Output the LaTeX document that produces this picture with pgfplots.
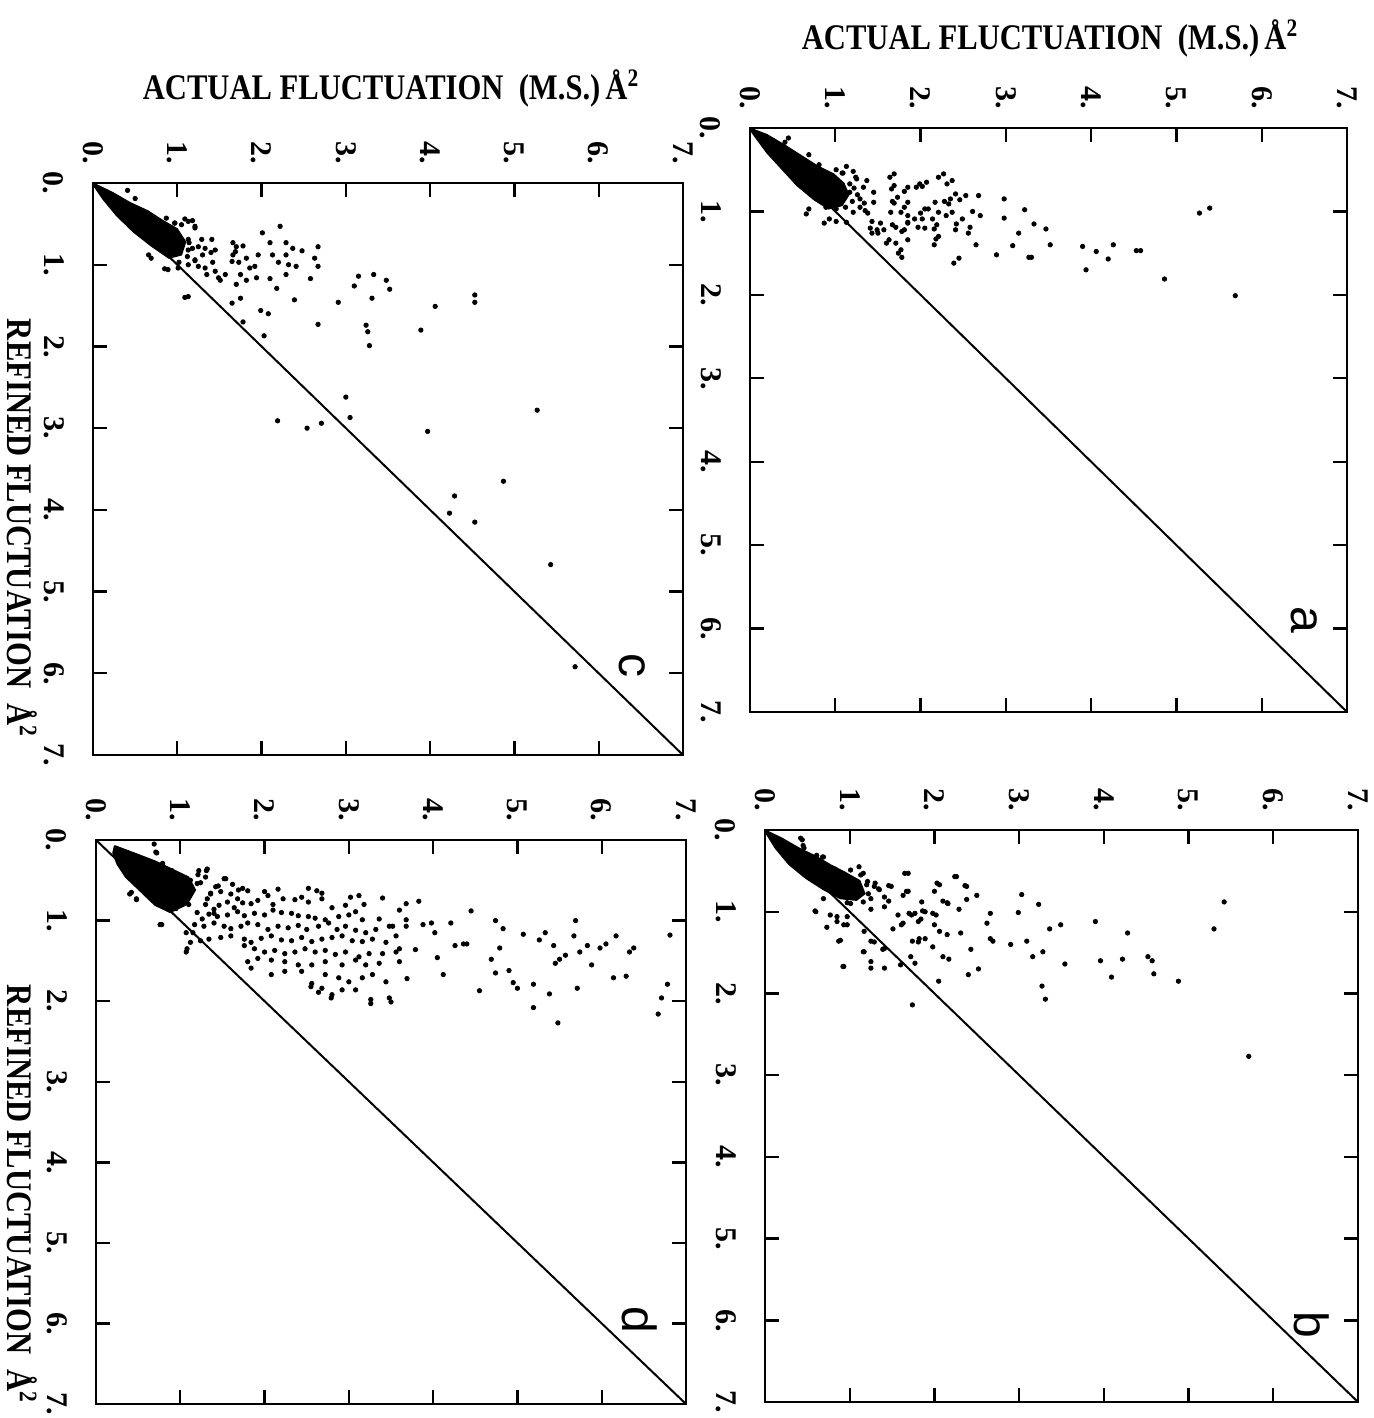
\documentclass[border=0pt]{standalone}
\usepackage{fontspec}
\setmainfont{Liberation Serif}
\setsansfont{Liberation Sans}
\usepackage{graphicx}
\usepackage{pgfplots}
\pgfplotsset{compat=1.18}

\pgfplotsset{panel/.style={
  scale only axis, xmin=0, xmax=7, ymin=0, ymax=7, y dir=reverse,
  xtick={0,...,7}, ytick={0,...,7},
  xticklabels={0.,1.,2.,3.,4.,5.,6.,7.},
  yticklabels={0.,1.,2.,3.,4.,5.,6.,7.},
  xticklabel pos=right, yticklabel pos=left,
  xtick pos=both, ytick pos=both,
  tick align=inside, major tick length=7pt,
  axis line style={line width=1.4pt},
  every tick/.style={line width=1.2pt, black},
  xticklabel style={rotate=-90, anchor=east, font=\fontsize{15}{15}\selectfont\bfseries},
  yticklabel style={rotate=-90, anchor=north, font=\fontsize{15}{15}\selectfont\bfseries},
  xticklabel shift=6pt, yticklabel shift=11pt,
  clip=false,
}}
\pgfplotsset{dots/.style={only marks, mark=*, mark size=1.1pt, black, mark options={draw=black, fill=black}}}
\pgfplotsset{blob/.style={fill=black, draw=black, line width=0.6pt}}
\pgfplotsset{diag/.style={black, line width=1pt}}

\begin{document}
\begin{tikzpicture}
\path[use as bounding box] (0pt,0pt) rectangle (686.5pt,-709pt);

% ---------------- panel a ----------------
\begin{axis}[panel, at={(375pt,-64pt)}, anchor=north west, width=298.5pt, height=292pt]
\addplot[diag] coordinates {(0,0) (7,7)};
\addplot[blob] coordinates {(0.0,0.0) (0.2,0.08) (0.4,0.2) (0.6,0.33) (0.8,0.46) (0.98,0.55) (1.1,0.66) (1.16,0.8) (1.08,0.93) (0.92,0.97) (0.75,0.86) (0.55,0.69) (0.38,0.5) (0.2,0.3) (0.07,0.12) (0.0,0.02) (0.0,0.0)};
\addplot[dots] table {
0.41 0.17
0.96 0.61
1.08 0.54
1.24 0.59
1.64 0.59
1.81 0.76
1.95 0.71
2.02 0.70
2.21 0.59
2.31 0.67
1.66 0.73
1.67 0.88
1.69 0.90
1.81 0.95
1.85 1.05
2.00 1.02
2.09 0.97
2.28 0.88
2.35 0.85
2.46 0.86
2.61 1.00
2.68 0.81
2.70 1.05
2.30 1.05
2.14 1.09
2.02 1.09
1.97 1.19
1.85 1.14
1.78 1.24
1.71 1.19
1.67 1.16
1.53 1.14
1.43 1.12
1.43 1.26
1.50 1.26
1.60 1.38
1.71 1.38
1.74 1.50
1.78 1.55
2.16 1.21
2.18 1.33
2.16 1.40
2.42 1.15
2.58 1.19
2.56 1.26
2.65 1.40
2.89 1.52
2.98 0.85
2.98 1.08
3.15 1.26
3.08 1.41
3.22 0.98
3.33 1.15
3.47 1.21
3.52 1.40
3.27 1.55
3.30 1.55
2.39 1.62
3.90 1.42
3.94 1.70
4.06 1.48
4.20 1.57
4.26 1.40
4.53 1.47
4.58 1.47
4.86 1.81
5.27 1.02
5.39 0.96
5.69 2.01
0.66 1.03
0.87 1.14
1.01 1.12
1.38 1.02
1.29 0.95
1.34 0.90
0.45 0.12
0.69 0.32
0.81 0.44
1.01 0.50
1.13 0.46
1.09 0.54
1.21 0.52
1.25 0.61
1.01 0.65
1.17 0.67
1.37 0.63
1.33 0.71
1.45 0.77
1.17 0.77
1.29 0.85
1.45 0.89
1.35 0.99
1.21 1.01
0.93 1.09
0.69 0.97
0.89 0.95
1.01 0.97
1.13 1.13
1.41 1.20
1.49 1.22
1.57 1.22
1.69 0.55
1.69 0.69
1.85 0.71
1.99 0.67
2.07 0.65
1.73 0.83
1.85 0.89
1.77 1.01
1.65 1.01
1.85 1.13
1.93 1.09
2.05 0.97
2.17 0.89
2.21 1.01
1.85 1.34
1.77 1.46
1.63 1.34
2.05 1.20
2.19 1.16
2.21 1.30
2.27 0.55
2.37 0.63
2.41 0.79
2.53 0.81
2.33 0.91
2.37 1.01
2.49 1.09
2.41 1.22
2.45 1.56
1.81 1.22
1.22 0.72
1.26 0.80
1.20 0.88
1.12 0.95
};
\node[rotate=-90, font=\fontsize{24}{24}\selectfont\sffamily] at (axis cs:6.5,5.9) {a};
\end{axis}

% ---------------- panel b ----------------
\begin{axis}[panel, at={(382.5pt,-415pt)}, anchor=north west, width=296.5pt, height=286pt]
\addplot[diag] coordinates {(0,0) (7,7)};
\addplot[blob] coordinates {(0.0,0.0) (0.2,0.1) (0.4,0.22) (0.6,0.32) (0.78,0.43) (0.95,0.52) (1.12,0.62) (1.18,0.78) (1.08,0.86) (0.89,0.84) (0.69,0.73) (0.48,0.59) (0.28,0.42) (0.12,0.22) (0.0,0.02) (0.0,0.0)};
\addplot[dots] table {
0.42 0.10
0.45 0.19
0.61 0.31
0.68 0.33
0.73 0.50
0.83 0.48
1.11 0.45
1.16 0.53
1.08 0.65
1.20 0.67
1.30 0.65
1.34 0.72
1.46 0.68
1.65 0.53
1.67 0.75
1.63 0.80
1.46 0.87
1.41 0.94
1.25 0.97
1.11 0.77
0.97 0.89
0.59 0.99
0.73 1.19
0.85 1.06
0.97 1.16
0.87 1.36
0.92 1.67
1.16 1.49
1.25 1.69
1.25 1.36
1.41 1.69
1.39 1.46
1.51 1.21
1.63 1.14
1.70 1.02
1.77 1.02
1.84 1.09
1.86 0.99
1.74 1.36
1.82 1.33
1.72 1.55
1.77 1.63
1.60 1.65
1.74 2.14
2.00 0.75
2.03 0.65
2.10 0.87
2.15 0.89
1.98 1.02
2.00 1.16
1.98 1.43
2.15 1.28
2.17 1.58
2.10 1.55
2.05 1.85
2.29 0.97
2.31 1.26
2.38 0.85
2.36 0.68
2.24 0.57
2.43 1.46
2.40 1.77
2.52 1.70
2.50 0.80
2.62 1.14
2.66 1.02
2.66 1.33
2.69 1.36
2.90 1.40
2.99 1.01
3.03 0.79
3.09 1.36
3.16 1.55
3.23 0.91
3.28 1.49
3.27 1.91
3.31 2.07
3.36 1.21
3.49 1.16
3.54 1.64
3.90 1.12
3.96 1.60
4.09 1.80
4.22 1.58
4.28 1.26
4.52 1.55
4.57 1.60
4.59 1.76
4.88 1.85
5.30 1.21
5.42 0.88
5.71 2.77
0.44 0.12
0.46 0.22
0.69 0.33
0.67 0.45
1.01 0.49
1.13 0.55
1.21 0.63
0.97 0.67
1.13 0.75
1.29 0.69
1.35 0.73
1.49 0.69
1.41 0.82
1.25 0.84
1.01 0.90
0.69 0.84
0.60 1.00
0.77 1.04
0.85 1.12
0.97 1.06
0.93 1.16
1.17 1.24
1.29 1.37
0.89 1.35
1.17 1.49
1.25 1.61
0.93 1.67
1.41 1.45
1.69 0.53
1.69 0.75
1.85 0.88
1.89 1.00
1.73 1.04
1.81 1.12
1.61 1.16
1.57 1.04
2.02 1.04
2.06 1.24
1.89 1.33
1.81 1.37
2.06 0.67
2.16 0.90
2.26 0.57
2.38 0.69
1.22 0.78
1.16 0.88
};
\node[rotate=-90, font=\fontsize{24}{24}\selectfont\sffamily] at (axis cs:6.45,6.05) {b};
\end{axis}

% ---------------- panel c ----------------
\begin{axis}[panel, at={(46.5pt,-91.5pt)}, anchor=north west, width=295pt, height=286pt]
\addplot[diag] coordinates {(0,0) (7,7)};
\addplot[blob] coordinates {(0.0,0.0) (0.24,0.12) (0.44,0.24) (0.65,0.34) (0.83,0.46) (1.0,0.56) (1.1,0.72) (1.05,0.88) (0.9,0.92) (0.69,0.77) (0.48,0.6) (0.28,0.4) (0.12,0.2) (0.0,0.02) (0.0,0.0)};
\addplot[dots] table {
0.41 0.09
0.50 0.19
0.97 0.49
1.09 0.44
1.18 0.46
1.21 0.53
0.99 0.61
1.04 0.68
1.14 0.73
1.25 0.78
1.30 0.88
1.40 0.85
1.42 0.97
1.25 1.02
1.21 0.95
1.35 1.12
1.51 1.19
1.66 0.73
1.66 0.88
1.70 0.78
1.73 0.97
1.75 1.12
1.82 1.19
1.70 1.24
1.75 1.41
1.78 1.70
1.92 1.02
1.96 0.88
2.01 0.61
2.10 0.73
2.13 0.88
2.20 0.97
2.10 1.17
1.99 1.56
2.08 1.60
2.03 1.87
2.18 1.29
2.22 0.53
2.29 0.73
2.29 0.88
2.32 1.00
2.29 1.12
2.37 0.80
2.41 1.02
2.48 0.83
2.39 1.43
2.58 1.17
2.63 0.92
2.67 0.78
2.67 1.02
2.67 1.73
2.91 1.46
3.10 1.26
3.15 1.14
3.33 1.12
3.48 1.19
3.52 1.30
3.31 1.41
3.24 1.74
3.26 1.82
3.28 1.99
3.00 2.62
3.05 2.87
2.19 2.91
2.54 3.00
2.71 2.94
3.97 3.04
3.89 1.80
4.06 1.51
4.53 1.37
4.53 1.46
5.27 2.78
4.87 3.65
4.29 3.83
4.23 4.04
4.53 4.15
5.43 4.67
5.72 5.92
1.09 1.40
0.66 0.88
0.85 1.05
1.02 0.97
0.87 0.43
0.97 0.49
1.05 0.51
1.13 0.47
1.21 0.55
0.99 0.63
1.13 0.69
1.29 0.69
1.41 0.69
1.33 0.80
1.45 0.82
1.13 0.82
1.21 0.94
0.89 1.06
1.01 1.04
1.13 1.00
1.33 1.04
1.45 1.08
1.49 1.16
1.57 1.12
0.69 0.92
1.13 1.39
1.65 1.47
1.69 0.84
1.78 0.77
1.65 0.96
1.82 0.92
1.86 1.04
1.94 1.16
1.18 0.80
1.12 0.90
};
\node[rotate=-90, font=\fontsize{24}{24}\selectfont\sffamily] at (axis cs:6.4,5.9) {c};
\end{axis}

% ---------------- panel d ----------------
\begin{axis}[panel, at={(48pt,-420pt)}, anchor=north west, width=295pt, height=282pt]
\addplot[diag] coordinates {(0,0) (7,7)};
\addplot[blob] coordinates {(0.22,0.07) (0.45,0.16) (0.7,0.26) (0.92,0.37) (1.1,0.46) (1.18,0.62) (1.08,0.8) (0.88,0.9) (0.7,0.81) (0.5,0.61) (0.35,0.46) (0.25,0.3) (0.2,0.16) (0.22,0.07)};
\addplot[dots] table {
0.71 0.15
0.79 0.29
0.90 0.38
0.93 0.48
1.02 0.55
1.21 0.43
1.31 0.38
1.24 0.53
1.12 0.60
1.36 0.67
1.45 0.57
1.52 0.48
1.62 0.55
1.69 0.62
1.07 1.15
1.17 1.05
1.26 0.98
1.40 0.91
0.76 1.05
0.40 0.67
0.48 0.74
0.69 0.05
0.90 0.60
1.00 0.70
1.10 0.80
1.30 0.80
1.20 0.90
0.95 0.85
1.15 1.15
1.07 1.39
1.22 0.38
1.32 0.36
1.30 0.46
1.54 0.48
1.12 0.50
1.20 0.54
1.42 0.58
1.74 0.60
1.80 0.63
2.00 0.64
2.16 0.61
2.52 0.60
2.62 0.63
2.68 0.66
3.02 0.71
3.12 0.69
3.40 0.72
2.04 0.69
1.36 0.66
1.48 0.64
1.60 0.67
1.68 0.73
1.56 0.77
1.64 0.84
1.74 0.78
1.84 0.79
1.92 0.75
2.10 0.80
2.22 0.73
2.36 0.74
2.44 0.71
2.52 0.77
2.68 0.73
2.80 0.84
2.96 0.81
3.18 0.80
3.68 0.79
1.32 0.73
1.46 0.81
1.40 0.86
1.34 0.92
1.44 0.95
1.56 0.93
1.68 0.89
1.76 0.94
1.88 0.91
2.00 0.93
2.10 0.87
2.20 0.90
2.32 0.91
2.40 0.94
2.52 0.95
2.60 0.97
2.72 0.99
2.88 0.95
3.00 0.93
3.08 0.89
3.16 0.99
3.36 0.98
3.52 1.07
3.60 0.87
3.68 0.99
1.28 1.07
1.40 1.03
1.52 1.07
1.60 1.10
1.72 1.07
1.80 1.03
1.92 1.05
2.04 1.11
2.16 1.07
2.28 1.09
2.40 1.06
2.50 1.11
2.64 1.07
2.76 1.03
2.86 1.11
2.96 1.07
3.08 1.12
3.20 1.15
3.32 1.11
3.48 1.07
3.56 1.19
3.68 1.07
1.12 1.27
1.24 1.25
1.34 1.23
1.48 1.21
1.60 1.19
1.76 1.23
1.84 1.27
1.96 1.22
2.08 1.19
2.20 1.24
2.32 1.25
2.44 1.21
2.56 1.26
2.68 1.23
2.80 1.21
2.92 1.19
3.04 1.25
3.16 1.26
3.28 1.23
3.44 1.27
3.60 1.35
1.76 1.31
1.88 1.35
2.00 1.39
2.12 1.37
2.24 1.41
2.36 1.39
2.48 1.35
2.60 1.39
2.72 1.37
2.84 1.42
2.96 1.39
3.12 1.45
3.24 1.41
3.40 1.41
3.56 1.39
1.80 1.51
1.92 1.47
2.08 1.49
2.24 1.51
2.40 1.55
2.56 1.55
2.72 1.51
2.92 1.55
3.08 1.49
3.20 1.55
3.36 1.53
3.60 1.51
1.84 1.59
2.08 1.67
2.24 1.63
2.44 1.63
2.72 1.67
2.88 1.71
3.00 1.76
3.16 1.71
3.28 1.67
3.44 1.76
2.56 1.78
2.68 1.84
2.80 1.92
2.92 1.86
3.08 1.86
3.26 1.98
3.48 1.96
0.72 0.16
1.08 1.35
0.78 1.05
0.42 0.65
0.48 0.73
2.55 1.82
2.64 1.89
2.79 1.96
3.26 2.03
3.50 2.01
3.79 1.36
3.83 0.76
3.88 1.05
3.98 1.03
4.02 1.15
4.05 1.46
4.12 1.67
4.21 1.03
4.26 1.31
4.36 1.29
4.40 1.29
4.45 0.88
4.55 1.87
4.69 1.48
4.74 1.00
4.74 1.65
4.79 1.34
4.83 1.10
4.90 1.62
4.95 1.77
5.00 1.84
5.07 1.17
5.19 1.79
5.19 2.08
5.26 1.24
5.33 1.15
5.38 1.91
5.43 1.31
5.45 1.53
5.50 1.48
5.57 1.43
5.48 2.27
5.67 1.19
5.69 1.00
5.71 1.84
5.74 1.39
5.83 1.31
5.88 1.55
5.98 1.34
6.05 1.29
6.14 1.71
6.17 1.19
6.29 1.69
6.33 1.39
6.38 1.34
6.67 2.16
6.71 1.96
6.78 1.79
6.81 1.18
3.69 1.72
};
\node[rotate=-90, font=\fontsize{24}{24}\selectfont\sffamily] at (axis cs:6.45,5.95) {d};
\end{axis}

% ---------------- axis titles ----------------
\node at (525pt,-19pt) {\scalebox{0.85}[1]{\fontsize{18}{18}\selectfont\bfseries ACTUAL FLUCTUATION \ (M.S.)\,Å\textsuperscript{2}}};
\node at (195.5pt,-44pt) {\scalebox{0.85}[1]{\fontsize{18}{18}\selectfont\bfseries ACTUAL FLUCTUATION \ (M.S.)\,Å\textsuperscript{2}}};
\node[rotate=-90] at (11pt,-264pt) {\scalebox{0.85}[1]{\fontsize{18}{18}\selectfont\bfseries REFINED FLUCTUATION \ Å\textsuperscript{2}}};
\node[rotate=-90] at (11pt,-597pt) {\scalebox{0.85}[1]{\fontsize{18}{18}\selectfont\bfseries REFINED FLUCTUATION \ Å\textsuperscript{2}}};
\end{tikzpicture}
\end{document}
